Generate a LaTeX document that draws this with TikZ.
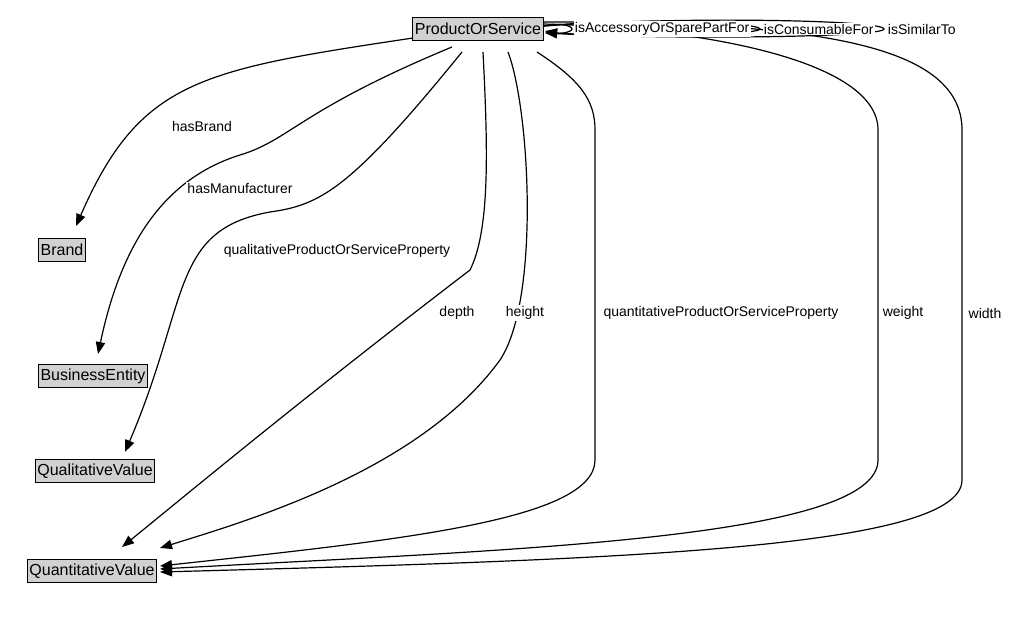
\documentclass[tikz,border=0pt]{standalone}
\usepackage{fontspec}
\setmainfont{Liberation Sans}
\usetikzlibrary{arrows.meta}
\begin{document}
\begin{tikzpicture}[x=0.75pt,y=-0.75pt,line width=0.9pt,
  cls/.style={draw,fill=black!18,inner sep=1.5pt,minimum height=17pt,line width=0.7pt,font=\fontsize{12}{14}\selectfont},
  lbl/.style={fill=white,inner sep=1pt,font=\fontsize{10.5}{12}\selectfont},
  e/.style={draw,-{Triangle[length=9pt,width=7pt]}}]
\useasboundingbox (0,0) rectangle (1016,621);
\node[cls] (pos) at (478,29) {ProductOrService};
\node[cls] (brand) at (62,250) {Brand};
\node[cls] (be) at (93,376) {BusinessEntity};
\node[cls] (qlv) at (95,471) {QualitativeValue};
\node[cls] (qtv) at (92,571) {QuantitativeValue};
\coordinate (p1) at (413,38);
\coordinate (p2) at (452,47);
\coordinate (p3) at (462,52);
\coordinate (p4) at (483,52);
\coordinate (p5) at (508,52);
\coordinate (p6) at (537,52);
\coordinate (p7) at (543,24);
\coordinate (p8) at (543,22);
\draw[e] (p1) .. controls (200,70) and (140,80) .. (76,226);
\draw[e] (p2) .. controls (300,110) and (290,140) .. (240,155) .. controls (160,180) and (120,250) .. (98,354);
\draw[e] (p3) .. controls (350,190) and (320,205) .. (270,212) .. controls (170,230) and (190,300) .. (125,452);
\draw[e] (p4) .. controls (488,150) and (490,230) .. (470,270) .. controls (300,400) and (180,500) .. (122,547);
\draw[e] (p5) .. controls (530,110) and (540,300) .. (500,360) .. controls (420,470) and (250,520) .. (160,548);
\draw[e] (p6) .. controls (580,80) and (595,100) .. (595,130) -- (595,460) .. controls (595,520) and (400,540) .. (160,566);
\draw[e] (p7) .. controls (700,28) and (878,60) .. (878,130) -- (878,460) .. controls (878,540) and (500,550) .. (160,569);
\draw[e] (p8) .. controls (800,22) and (962,40) .. (962,130) -- (962,480) .. controls (962,550) and (600,560) .. (160,572);
\draw[e] (544,26) .. controls (560,22) and (572,26) .. (572,29) .. controls (572,32) and (560,34) .. (545,31);
\draw[e] (544,26) .. controls (620,18) and (760,22) .. (760,29) .. controls (760,35) and (620,38) .. (545,32);
\draw[e] (544,26) .. controls (680,16) and (884,20) .. (884,29) .. controls (884,37) and (680,40) .. (545,33);
\node[lbl,anchor=west] (l1) at (573,29) {isAccessoryOrSparePartFor};
\node[lbl,anchor=west] (l2) at (762,29) {isConsumableFor};
\node[lbl,anchor=west] (l3) at (886,29) {isSimilarTo};
\node[lbl] (lb) at (202,126) {hasBrand};
\node[lbl] (lm) at (240,188) {hasManufacturer};
\node[lbl] (lq) at (337,251) {qualitativeProductOrServiceProperty};
\node[lbl] (ld) at (457,313) {depth};
\node[lbl] (lh) at (525,313) {height};
\node[lbl] (lqt) at (721,313) {quantitativeProductOrServiceProperty};
\node[lbl] (lw) at (903,313) {weight};
\node[lbl] (lwi) at (985,313) {width};
\end{tikzpicture}
\end{document}
